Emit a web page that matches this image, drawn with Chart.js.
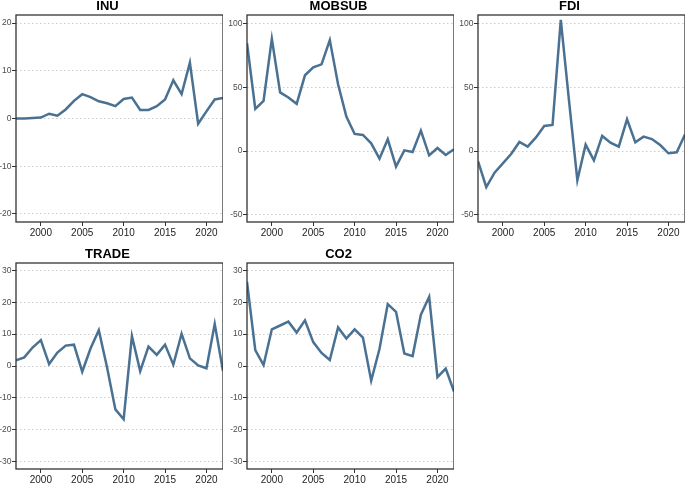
<!DOCTYPE html>
<html>
<head>
<meta charset="utf-8">
<script src="https://cdn.jsdelivr.net/npm/chart.js@4.4.1/dist/chart.umd.min.js"></script>
<style>
  html, body { margin: 0; padding: 0; background: #fff; width: 685px; height: 485px; overflow: hidden; position: relative; }
  canvas { position: absolute; }
</style>
</head>
<body>
<canvas id="c-inu"></canvas>
<canvas id="c-mobsub"></canvas>
<canvas id="c-fdi"></canvas>
<canvas id="c-trade"></canvas>
<canvas id="c-co2"></canvas>
<script>
// years on the x axis and the ticks that are labelled
const years = [1997, 1998, 1999, 2000, 2001, 2002, 2003, 2004, 2005, 2006, 2007, 2008, 2009,
               2010, 2011, 2012, 2013, 2014, 2015, 2016, 2017, 2018, 2019, 2020, 2021, 2022];
const xTicks = [2000, 2005, 2010, 2015, 2020];

// series
const inu    = [0, 0, 0.1, 0.2, 1.0, 0.6, 1.9, 3.7, 5.1, 4.5, 3.6, 3.2, 2.6,
                4.1, 4.4, 1.8, 1.8, 2.6, 4.0, 8.0, 5.1, 11.7, -1.1, 1.5, 4.0, 4.3];
const mobsub = [84.6, 33, 39.3, 88, 46, 42, 37, 59.4, 65.7, 68, 87, 52.4, 27,
                13.4, 12.6, 6, -6, 9.2, -12.3, 0.5, -0.8, 16, -3.4, 2.4, -3.1, 1.3];
const fdi    = [-7.9, -28.3, -17, -9.7, -2.4, 7.1, 3.4, 10.7, 19.6, 20.4, 102.9, 39, -23,
                5, -7.3, 11.8, 6.5, 3.4, 24.9, 6.8, 11.3, 9.4, 4.7, -1.8, -1, 13];
const trade  = [1.8, 2.7, 5.8, 8.1, 0.6, 4.2, 6.4, 6.7, -1.8, 5.5, 11.2, -0.5, -13.6,
                -16.7, 9.4, -1.6, 6.1, 3.5, 6.7, 0.4, 10.1, 2.4, 0.2, -0.7, 13.2, -1.6];
const co2    = [26.4, 5, 0.3, 11.5, 12.7, 13.9, 10.5, 14.3, 7.5, 4.1, 1.9, 12.1, 8.6,
                11.5, 8.9, -4.6, 5.3, 19.4, 17, 3.9, 3.1, 16.1, 21.7, -3.5, -0.8, -8];

// y tick labels
const inuTicks   = [-20, -10, 0, 10, 20];
const largeTicks = [-50, 0, 50, 100];
const wideTicks  = [-30, -20, -10, 0, 10, 20, 30];

const LINE = '#4a7192';
const FONT = "'Liberation Sans', Arial, sans-serif";
const Y_W = 24, TITLE_H = 20, X_H = 18, RIGHT_PAD = 2;

const panels = [
  { id: 'c-inu',    title: 'INU',    values: inu,    yMin: -21.7, yMax: 21.7,  yTicks: inuTicks,   plot: [16, 15, 221, 222] },
  { id: 'c-mobsub', title: 'MOBSUB', values: mobsub, yMin: -55.7, yMax: 106.7, yTicks: largeTicks, plot: [247, 15, 452, 222] },
  { id: 'c-fdi',    title: 'FDI',    values: fdi,    yMin: -55.7, yMax: 106.7, yTicks: largeTicks, plot: [478, 15, 683, 222] },
  { id: 'c-trade',  title: 'TRADE',  values: trade,  yMin: -32.3, yMax: 32.3,  yTicks: wideTicks,  plot: [16, 263, 221, 469] },
  { id: 'c-co2',    title: 'CO2',    values: co2,    yMin: -32.3, yMax: 32.3,  yTicks: wideTicks,  plot: [247, 263, 452, 469] }
];

// full frame round the plot area
const boxPlugin = {
  id: 'box',
  afterDraw(chart) {
    const a = chart.chartArea;
    const ctx = chart.ctx;
    ctx.save();
    ctx.strokeStyle = '#333';
    ctx.lineWidth = 1.3;
    ctx.strokeRect(a.left, a.top, a.right - a.left, a.bottom - a.top);
    ctx.restore();
  }
};

panels.forEach(p => {
  const [L, T, R, B] = p.plot;
  const canvas = document.getElementById(p.id);
  const w = R - L + Y_W + RIGHT_PAD;
  const h = B - T + TITLE_H + X_H;
  canvas.width = w;
  canvas.height = h;
  canvas.style.left = (L - Y_W) + 'px';
  canvas.style.top = (T - TITLE_H) + 'px';
  canvas.style.width = w + 'px';
  canvas.style.height = h + 'px';

  new Chart(canvas.getContext('2d'), {
    type: 'line',
    data: {
      datasets: [{
        data: years.map((y, i) => ({ x: y, y: p.values[i] })),
        borderColor: LINE,
        borderWidth: 2.5,
        pointRadius: 0,
        tension: 0,
        clip: 0
      }]
    },
    options: {
      responsive: false,
      animation: false,
      devicePixelRatio: 1,
      layout: { padding: 0 },
      plugins: {
        legend: { display: false },
        tooltip: { enabled: false },
        title: {
          display: true,
          text: p.title,
          color: '#000',
          font: { family: FONT, size: 13, weight: 'bold', lineHeight: 1.2 },
          padding: { top: 3.5, bottom: 0.9 }
        }
      },
      scales: {
        x: {
          type: 'linear',
          min: 1997,
          max: 2022,
          afterBuildTicks: s => { s.ticks = xTicks.map(v => ({ value: v })); },
          afterFit: s => { s.height = X_H; },
          grid: { drawOnChartArea: false, drawTicks: true, tickLength: 4, tickColor: '#333', tickWidth: 1 },
          border: { display: false },
          ticks: { color: '#222', padding: 1, autoSkip: false, maxRotation: 0,
                   font: { family: FONT, size: 10 }, callback: v => String(v) }
        },
        y: {
          min: p.yMin,
          max: p.yMax,
          afterBuildTicks: s => { s.ticks = p.yTicks.map(v => ({ value: v })); },
          afterFit: s => { s.width = Y_W; },
          grid: { color: '#cccccc', lineWidth: 1, tickLength: 4, tickColor: '#333', tickWidth: 1, tickBorderDash: [] },
          border: { display: false, dash: [1.5, 2.5] },
          ticks: { color: '#4d4d4d', padding: 0.5, autoSkip: false,
                   font: { family: FONT, size: 8.5 }, callback: v => String(v) }
        }
      }
    },
    plugins: [boxPlugin]
  });
});
</script>
</body>
</html>
